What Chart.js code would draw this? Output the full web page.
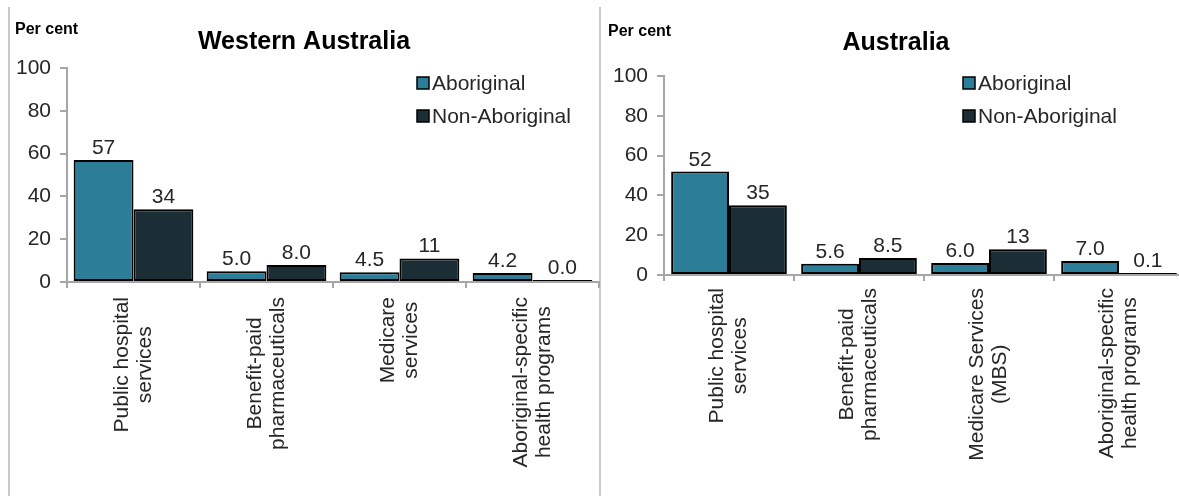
<!DOCTYPE html>
<html>
<head>
<meta charset="utf-8">
<script src="https://cdn.jsdelivr.net/npm/chart.js@4.4.0/dist/chart.umd.min.js"></script>
<style>
    body { margin: 0; background: #fff; overflow: hidden; width: 1179px; height: 496px; position: relative; }
    .panel { position: absolute; top: 0; height: 496px; }
    #left { left: 0; width: 600px; }
    #right { left: 600px; width: 590px; }
    .rule { position: absolute; top: 7px; height: 489px; width: 0; border-left: 2px solid #c8c8c8; }
</style>
</head>
<body>
<div class="rule" style="left:8px"></div>
<div class="rule" style="left:599px"></div>
<div class="panel" id="left"><canvas id="chartWA" width="600" height="496"></canvas></div>
<div class="panel" id="right"><canvas id="chartAU" width="590" height="496"></canvas></div>
<script>
// Categories (line-broken as in the original axis labels)
var waCategories = [['Public hospital', 'services'], ['Benefit-paid', 'pharmaceuticals'], ['Medicare', 'services'], ['Aboriginal-specific', 'health programs']];
var auCategories = [['Public hospital', 'services'], ['Benefit-paid', 'pharmaceuticals'], ['Medicare Services', '(MBS)'], ['Aboriginal-specific', 'health programs']];

// Per cent values
var waAboriginal = [57, 5.0, 4.5, 4.2];
var waNonAboriginal = [34, 8.0, 11, 0.0];
var auAboriginal = [52, 5.6, 6.0, 7.0];
var auNonAboriginal = [35, 8.5, 13, 0.1];

var seriesNames = ['Aboriginal', 'Non-Aboriginal'];
var yTicks = [0, 20, 40, 60, 80, 100];

var FONT = '"Liberation Sans", Arial, sans-serif';
var TEXT = '#262626';
var AXIS = '#a6a6a6';
var COLORS = ['#2c7d97', '#1b2e35'];

function fmt(v) {
    return v >= 10 ? v.toFixed(0) : v.toFixed(1);
}

// Draws the title, unit label, legend, value labels and rotated category labels
var panelText = {
    id: 'panelText',
    afterDraw: function (chart, args, o) {
        var ctx = chart.ctx;
        ctx.save();

        ctx.fillStyle = '#000';
        ctx.textBaseline = 'middle';
        ctx.textAlign = 'center';
        ctx.font = 'bold 25px ' + FONT;
        ctx.fillText(o.title, o.titleX, o.titleY);

        ctx.textAlign = 'left';
        ctx.font = 'bold 16px ' + FONT;
        ctx.fillText('Per cent', o.unitX, o.unitY);

        // legend
        ctx.font = '21px ' + FONT;
        chart.data.datasets.forEach(function (ds, i) {
            var y = o.legendY + i * 33;
            ctx.fillStyle = ds.backgroundColor;
            ctx.fillRect(o.legendX, y - 6, 12, 12);
            ctx.strokeStyle = '#000';
            ctx.lineWidth = 1.5;
            ctx.strokeRect(o.legendX, y - 6, 12, 12);
            ctx.fillStyle = TEXT;
            ctx.fillText(ds.label, o.legendX + 15, y + 1);
        });

        // value labels above the bars
        ctx.textAlign = 'center';
        ctx.textBaseline = 'alphabetic';
        ctx.fillStyle = TEXT;
        chart.data.datasets.forEach(function (ds, di) {
            var meta = chart.getDatasetMeta(di);
            meta.data.forEach(function (bar, i) {
                ctx.fillText(fmt(ds.data[i]), bar.x, bar.y - 6);
            });
        });

        // category labels, rotated and centred line by line
        var xs = chart.scales.x;
        ctx.font = '21px ' + FONT;
        ctx.textBaseline = 'middle';
        chart.data.labels.forEach(function (lines, i) {
            var maxW = 0;
            lines.forEach(function (l) { maxW = Math.max(maxW, ctx.measureText(l).width); });
            ctx.save();
            ctx.translate(xs.getPixelForTick(i), xs.top + o.labelGap + maxW / 2);
            ctx.rotate(-Math.PI / 2);
            lines.forEach(function (l, j) {
                ctx.fillText(l, 0, (j - (lines.length - 1) / 2) * 23);
            });
            ctx.restore();
        });

        ctx.restore();
    }
};

function makeChart(id, labels, a, b, layout, text) {
    return new Chart(document.getElementById(id), {
        type: 'bar',
        data: {
            labels: labels,
            datasets: [
                { label: seriesNames[0], data: a, backgroundColor: COLORS[0] },
                { label: seriesNames[1], data: b, backgroundColor: COLORS[1] }
            ]
        },
        options: {
            responsive: false,
            animation: false,
            devicePixelRatio: 1,
            layout: { padding: layout.padding },
            datasets: {
                bar: {
                    borderColor: '#000',
                    borderWidth: 2,
                    borderSkipped: false,
                    minBarLength: 2,
                    categoryPercentage: layout.catPct,
                    barPercentage: 1
                }
            },
            scales: {
                x: {
                    offset: true,
                    grid: { display: true, drawOnChartArea: false, drawTicks: true, tickLength: 6, color: AXIS, lineWidth: 2, offset: true },
                    border: { display: true, color: AXIS, width: 2 },
                    ticks: { display: false },
                    afterFit: function (s) { s.height = layout.xHeight; }
                },
                y: {
                    min: 0,
                    max: 100,
                    afterBuildTicks: function (s) { s.ticks = yTicks.map(function (v) { return { value: v }; }); },
                    grid: { display: true, drawOnChartArea: false, drawTicks: true, tickLength: 7, color: AXIS, lineWidth: 2 },
                    border: { display: true, color: AXIS, width: 2 },
                    ticks: { color: TEXT, padding: 9, font: { family: FONT, size: 21 } },
                    afterFit: function (s) { s.width = 58; }
                }
            },
            plugins: {
                legend: { display: false },
                tooltip: { enabled: false },
                panelText: text
            }
        },
        plugins: [panelText]
    });
}

makeChart('chartWA', waCategories, waAboriginal, waNonAboriginal,
    { padding: { left: 9, right: 1, top: 68, bottom: 14 }, xHeight: 200, catPct: 0.9 },
    { title: 'Western Australia', titleX: 304, titleY: 42, unitX: 15, unitY: 30, legendX: 417, legendY: 83, labelGap: 15 });

makeChart('chartAU', auCategories, auAboriginal, auNonAboriginal,
    { padding: { left: 6, right: 6, top: 76, bottom: 21 }, xHeight: 200, catPct: 0.89 },
    { title: 'Australia', titleX: 296, titleY: 43, unitX: 8, unitY: 32, legendX: 363, legendY: 83, labelGap: 13 });
</script>
</body>
</html>
